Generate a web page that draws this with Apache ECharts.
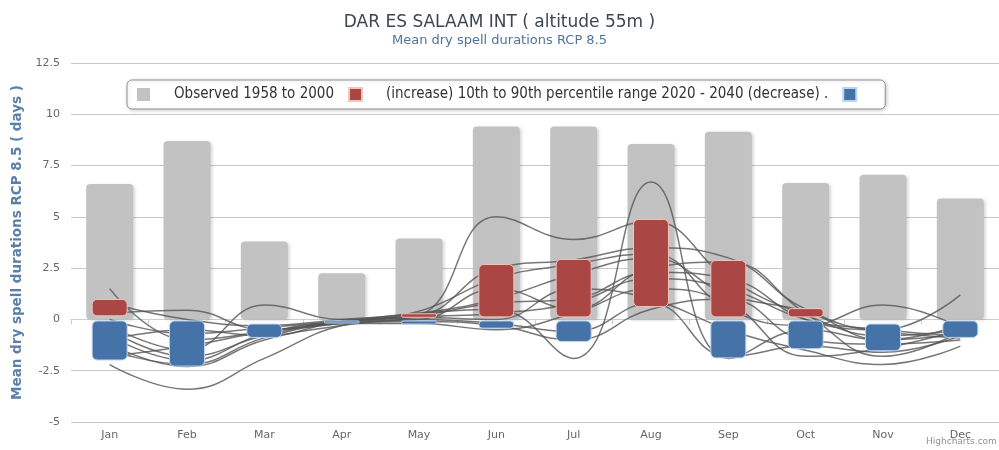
<!DOCTYPE html>
<html>
<head>
<meta charset="utf-8">
<script src="https://cdn.jsdelivr.net/npm/echarts@6/dist/echarts.min.js"></script>
<style>
  html, body { margin: 0; padding: 0; background: #fff; }
  #chart { width: 999px; height: 450px; }
</style>
</head>
<body>
<div id="chart"></div>
<script>
const months = ['Jan', 'Feb', 'Mar', 'Apr', 'May', 'Jun', 'Jul', 'Aug', 'Sep', 'Oct', 'Nov', 'Dec']

// observed mean dry spell (days)
const observed = [6.6, 8.7, 3.8, 2.25, 3.95, 9.4, 9.4, 8.55, 9.15, 6.65, 7.05, 5.9]

// 10th-90th percentile range, increase part (low, high)
const incLow = [0.15, null, null, null, 0.08, 0.1, 0.1, 0.6, 0.1, 0.1, null, null]
const incHigh = [1.0, null, null, null, 0.3, 2.7, 2.95, 4.9, 2.9, 0.55, null, null]

// decrease part (top, bottom)
const decTop = [-0.05, -0.05, -0.2, -0.05, -0.05, -0.05, -0.05, null, -0.05, -0.05, -0.2, -0.05]
const decBottom = [-2.0, -2.3, -0.9, -0.2, -0.25, -0.45, -1.1, null, -1.9, -1.45, -1.55, -0.9]

// model runs (change in days)
const runs = [
  [-2.2, -3.4, -1.9, -0.3, 0.1, 0.3, 0.8, 2.0, 1.5, 0.0, -0.5, -0.8],
  [1.5, -1.0, -0.6, -0.2, 0.2, 5.0, 3.9, 4.8, 2.0, 0.2, -0.8, -0.5],
  [0.3, 0.45, -0.5, -0.1, 0.3, 0.5, -1.9, 6.7, -1.9, -0.5, -1.0, -0.7],
  [-0.3, -1.5, 0.7, 0.0, 0.2, 2.5, 2.9, 3.5, 3.0, 0.5, -0.5, 1.2],
  [-0.8, -2.0, -0.7, -0.1, 0.0, 1.5, 0.5, 2.5, 2.8, 0.3, -1.8, -0.6],
  [-1.0, -0.5, -0.8, -0.1, 0.1, 0.0, 1.5, 1.0, -0.5, -1.5, -2.2, -1.3],
  [-1.5, -2.2, -0.9, -0.2, -0.1, -0.3, -1.0, 0.5, 1.0, -1.0, -1.2, -1.0],
  [-1.8, -1.3, -0.6, -0.1, 0.4, 2.0, 2.7, 3.2, 0.5, -0.3, 0.7, -0.4],
  [0.0, -0.7, -0.4, -0.1, 0.2, 0.8, 1.0, 2.3, 2.0, 0.0, -0.6, -0.9],
  [-0.5, -1.8, -0.8, -0.2, -0.2, -0.5, 0.3, 1.5, 0.8, -1.8, -1.4, -0.5],
  [0.8, 0.0, -0.3, 0.0, 0.3, 1.0, 2.2, 3.0, 1.2, 0.4, -1.0, -0.3],
  [-1.2, -2.3, -1.0, -0.3, 0.0, -0.2, -0.6, 0.8, -1.8, -1.3, -1.6, -0.8]
]

const obsName = 'Observed 1958 to 2000'
const incName = '(increase) 10th to 90th percentile range 2020 - 2040 (decrease) .'
const decName = 'decrease'

const incSize = incHigh.map((v, i) => v == null ? null : +(v - incLow[i]).toFixed(2))
const decSize = decBottom.map((v, i) => v == null ? null : +(v - decTop[i]).toFixed(2))

const chart = echarts.init(document.getElementById('chart'))

const runSeries = runs.map((r, i) => ({
  name: 'run' + i,
  type: 'line',
  xAxisIndex: 0,
  data: r,
  smooth: 0.45,
  symbol: 'none',
  silent: true,
  z: 3,
  lineStyle: { color: '#555', width: 1.5, opacity: 0.8 }
}))

const option = {
  animation: false,
  textStyle: { fontFamily: 'DejaVu Sans, Verdana, sans-serif' },
  title: {
    text: 'DAR ES SALAAM INT ( altitude 55m )',
    subtext: 'Mean dry spell durations RCP 8.5',
    left: 'center',
    top: 9,
    itemGap: 3,
    textStyle: { fontSize: 17, fontWeight: 'normal', color: '#3e4650', fontFamily: 'DejaVu Sans' },
    subtextStyle: { fontSize: 13, color: '#4d759e', fontFamily: 'DejaVu Sans' }
  },
  legend: {
    data: [obsName, incName, decName],
    left: 127,
    top: 80,
    padding: [7, 28, 7, 10],
    itemGap: 14,
    itemWidth: 13,
    itemHeight: 13,
    icon: 'rect',
    selectedMode: false,
    backgroundColor: '#fff',
    borderColor: '#909090',
    borderWidth: 1,
    borderRadius: 5,
    shadowColor: 'rgba(0,0,0,0.2)',
    shadowBlur: 4,
    shadowOffsetX: 1,
    shadowOffsetY: 1,
    formatter: name => name === decName ? '' : name,
    textStyle: {
      fontSize: 15,
      color: '#333',
      fontFamily: 'Liberation Sans Narrow, DejaVu Sans Condensed, sans-serif',
      padding: [0, 0, 0, 19]
    }
  },
  grid: { left: 71, right: 0, top: 63, bottom: 28 },
  xAxis: [
    {
      type: 'category',
      data: months,
      axisLine: { lineStyle: { color: '#c0d0e0' } },
      axisTick: { show: true, length: 5, lineStyle: { color: '#c0d0e0' } },
      axisLabel: { color: '#666', fontSize: 11, margin: 8 }
    },
    { type: 'category', data: months, show: false }
  ],
  yAxis: {
    type: 'value',
    min: -5,
    max: 12.5,
    interval: 2.5,
    name: 'Mean dry spell durations RCP 8.5 ( days )',
    nameLocation: 'middle',
    nameGap: 45,
    nameTextStyle: { color: '#5a7fa8', fontSize: 13.5, fontWeight: 'bold' },
    axisLabel: { color: '#666', fontSize: 11, margin: 11 },
    splitLine: { lineStyle: { color: '#c8c8c8' } },
    axisLine: { show: false },
    axisTick: { show: false }
  },
  graphic: [{
    type: 'text',
    left: 926,
    top: 437,
    style: { text: 'Highcharts.com', fontSize: 9, fill: '#909090', fontFamily: 'DejaVu Sans' }
  }],
  series: [
    {
      name: obsName,
      type: 'bar',
      xAxisIndex: 0,
      data: observed,
      barWidth: 47,
      z: 2,
      itemStyle: {
        color: '#c2c2c2',
        borderRadius: 4,
        shadowColor: 'rgba(0,0,0,0.15)',
        shadowBlur: 3,
        shadowOffsetX: 2,
        shadowOffsetY: 1
      }
    },
    ...runSeries,
    {
      name: 'incBase',
      type: 'bar',
      xAxisIndex: 1,
      stack: 'inc',
      data: incLow,
      barWidth: 36,
      barGap: '-100%',
      silent: true,
      z: 4,
      itemStyle: { color: 'transparent' }
    },
    {
      name: incName,
      type: 'bar',
      xAxisIndex: 1,
      stack: 'inc',
      data: incSize,
      barWidth: 36,
      barGap: '-100%',
      z: 4,
      itemStyle: { color: '#aa4643', borderColor: '#f2c4c0', borderWidth: 1, borderRadius: 5 }
    },
    {
      name: 'decBase',
      type: 'bar',
      xAxisIndex: 1,
      stack: 'dec',
      data: decTop,
      barWidth: 36,
      barGap: '-100%',
      silent: true,
      z: 4,
      itemStyle: { color: 'transparent' }
    },
    {
      name: decName,
      type: 'bar',
      xAxisIndex: 1,
      stack: 'dec',
      data: decSize,
      barWidth: 36,
      barGap: '-100%',
      z: 4,
      itemStyle: { color: '#4572a7', borderColor: '#bcd4f0', borderWidth: 1, borderRadius: 5 }
    }
  ]
}

chart.setOption(option)
</script>
</body>
</html>
